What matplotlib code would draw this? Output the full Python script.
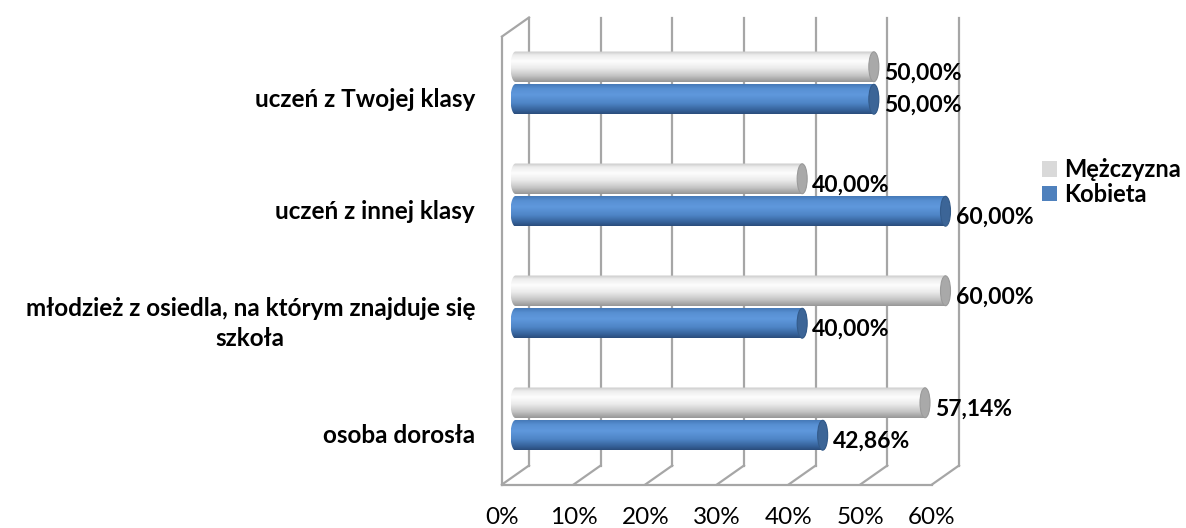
import numpy as np
import matplotlib
matplotlib.use("Agg")
import matplotlib.pyplot as plt
from matplotlib.colors import LinearSegmentedColormap
from matplotlib.patches import PathPatch, Ellipse, Patch
from matplotlib.path import Path

plt.rcParams["font.family"] = ["Lato", "DejaVu Sans"]

categories = ["uczeń z Twojej klasy", "uczeń z innej klasy",
              "młodzież z osiedla, na którym znajduje się\nszkoła", "osoba dorosła"]
mezczyzna = [50.00, 40.00, 60.00, 57.14]
kobieta = [50.00, 60.00, 40.00, 42.86]
series_names = ["Mężczyzna", "Kobieta"]
xticks = [0, 10, 20, 30, 40, 50, 60]

W, H = 1186, 528
fig = plt.figure(figsize=(W / 100, H / 100), dpi=100)

# middle depth plane of the 3d box: 0..60% over 430 px, 4 rows over 448 px
x0_px, span_px, ax_top, ax_h = 515.5, 430, 27, 448
px_x = span_px / 60.0
px_y = ax_h / 4.0
dx = 13.5 / px_x            # half depth of the box, data units
dy = 9.5 / px_y
xmin = -dx - 1.0            # a bit of room left of zero for the rounded bar ends
ax_l = x0_px + xmin * px_x
ax_w = (60 - xmin) * px_x
ax = fig.add_axes([ax_l / W, (H - ax_top - ax_h) / H, ax_w / W, ax_h / H])
ax.axis("off")

grid_c = "#a6a6a6"
lw = 1.6
ny = len(categories)

# back wall gridlines + floor
for t in xticks:
    ax.plot([t + dx, t + dx], [0 - dy, ny - dy], color=grid_c, lw=lw, clip_on=False, zorder=1)
    ax.plot([t + dx, t - dx], [ny - dy, ny + dy], color=grid_c, lw=lw, clip_on=False, zorder=1)
ax.plot([0 - dx, 60 - dx], [ny + dy, ny + dy], color=grid_c, lw=lw, clip_on=False, zorder=1)
# left wall
ax.plot([0 - dx, 0 - dx], [0 + dy, ny + dy], color=grid_c, lw=lw, clip_on=False, zorder=1)
ax.plot([0 + dx, 0 - dx], [0 - dy, 0 + dy], color=grid_c, lw=lw, clip_on=False, zorder=1)

gray_cmap = LinearSegmentedColormap.from_list("g", [
    (0.0, "#c8c8c8"), (0.12, "#ececec"), (0.32, "#fdfdfd"), (0.55, "#ebebeb"),
    (0.8, "#c4c4c4"), (1.0, "#979797")])
blue_cmap = LinearSegmentedColormap.from_list("b", [
    (0.0, "#4274b2"), (0.18, "#5890d3"), (0.38, "#5f98dc"), (0.65, "#4e85c6"),
    (0.88, "#36629a"), (1.0, "#2a4d7c")])
grad = np.linspace(0, 1, 64).reshape(-1, 1)

bar_h = 0.272
cap_a = 5.0 / px_x          # half width of the end ellipse
t_r = np.linspace(-np.pi / 2, np.pi / 2, 40)
t_l = np.linspace(np.pi / 2, 3 * np.pi / 2, 40)


def cylinder(v, yc, cmap, cap_color, cap_edge):
    b = bar_h / 2
    xs = np.concatenate([v + cap_a * np.cos(t_r), 0 + cap_a * np.cos(t_l)])
    ys = np.concatenate([yc + b * np.sin(t_r), yc + b * np.sin(t_l)])
    verts = np.column_stack([xs, ys])
    verts = np.vstack([verts, verts[:1]])
    patch = PathPatch(Path(verts, closed=True), facecolor="none", edgecolor="none",
                      transform=ax.transData)
    ax.add_patch(patch)
    im = ax.imshow(grad, extent=[-cap_a, v + cap_a, yc + b, yc - b], aspect="auto",
                   cmap=cmap, zorder=3, interpolation="bilinear")
    im.set_clip_path(patch)
    ax.add_patch(Ellipse((v, yc), 2 * cap_a, bar_h * 0.98, facecolor=cap_color,
                         edgecolor=cap_edge, lw=0.8, zorder=4, clip_on=False))


lbl = dict(fontsize=16.5, fontweight="bold", color="black", va="center", ha="left",
           textcoords="offset pixels", zorder=5, annotation_clip=False)
for i, cat in enumerate(categories):
    c = i + 0.5
    yg, yb = c - 0.145, c + 0.145
    cylinder(mezczyzna[i], yg, gray_cmap, "#a9a9a9", "#9a9a9a")
    cylinder(kobieta[i], yb, blue_cmap, "#3c6597", "#335a89")
    ax.annotate(f"{mezczyzna[i]:.2f}".replace(".", ",") + "%", (mezczyzna[i] + cap_a, yg),
                xytext=(5, -6), **lbl)
    ax.annotate(f"{kobieta[i]:.2f}".replace(".", ",") + "%", (kobieta[i] + cap_a, yb),
                xytext=(5, -6), **lbl)
    ax.annotate(cat, (0 - dx, c + dy), xytext=(-27, -7), textcoords="offset pixels",
                ha="right", va="center", multialignment="center", annotation_clip=False,
                fontsize=17.5, fontweight="bold", linespacing=1.4)

for t in xticks:
    ax.annotate(f"{t}%", (t - dx, ny + dy), xytext=(0, -33), textcoords="offset pixels",
                ha="center", va="center", fontsize=17.5, annotation_clip=False)

ax.set_xlim(xmin, 60)
ax.set_ylim(4, 0)

handles = [Patch(facecolor="#d9d9d9", edgecolor="none"),
           Patch(facecolor="#4f81bd", edgecolor="none")]
fig.legend(handles, series_names, loc="center left", bbox_to_anchor=(1042 / W, 1 - 182 / H),
           frameon=False, handlelength=0.65, handleheight=0.65, handletextpad=0.3,
           labelspacing=0.06, prop=dict(size=17, weight="bold"), borderaxespad=0,
           borderpad=0)

fig.savefig("out.png", dpi=100)
